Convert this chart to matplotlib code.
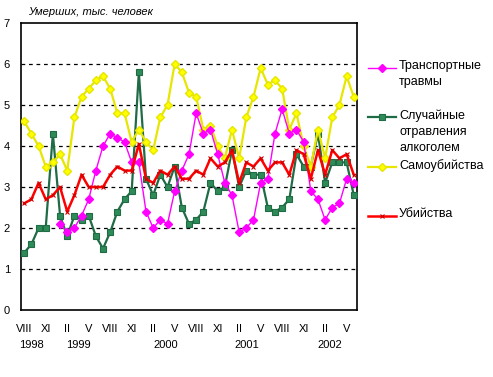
import numpy as np
import matplotlib
matplotlib.use("Agg")
import matplotlib.pyplot as plt
from matplotlib.transforms import blended_transform_factory

plt.rcParams['font.family'] = ['Liberation Sans', 'DejaVu Sans']

# --- данные: помесячно, VIII 1998 - VI 2002 ---
month_labels = ['VIII', 'XI', 'II', 'V'] * 4
year_labels = ['1998', '1999', '2000', '2001', '2002']
year_pos = [1.0, 7.6, 19.8, 31.0, 42.6]

transport = [np.nan, np.nan, np.nan, np.nan, np.nan,
             2.1, 1.9, 2.0, 2.3, 2.7, 3.4, 4.0, 4.3, 4.2, 4.1, 3.6, 3.6,
             2.4, 2.0, 2.2, 2.1, 2.9, 3.4, 3.8, 4.8, 4.3, 4.4, 3.8, 3.1,
             2.8, 1.9, 2.0, 2.2, 3.1, 3.2, 4.3, 4.9, 4.3, 4.4, 4.1, 2.9,
             2.7, 2.2, 2.5, 2.6, 3.2, 3.1]
alcohol = [1.4, 1.6, 2.0, 2.0, 4.3, 2.3, 1.8, 2.3, 2.2, 2.3, 1.8, 1.5,
           1.9, 2.4, 2.7, 2.9, 5.8, 3.2, 2.8, 3.3, 3.0, 3.5, 2.5, 2.1,
           2.2, 2.4, 3.1, 2.9, 3.0, 3.9, 3.0, 3.4, 3.3, 3.3, 2.5, 2.4,
           2.5, 2.7, 3.8, 3.5, 3.5, 4.3, 3.1, 3.6, 3.6, 3.6, 2.8]
suicide = [4.6, 4.3, 4.0, 3.5, 3.6, 3.8, 3.4, 4.7, 5.2, 5.4, 5.6, 5.7,
           5.4, 4.8, 4.8, 4.1, 4.4, 4.1, 3.9, 4.7, 5.0, 6.0, 5.8, 5.3,
           5.2, 4.4, 4.5, 4.0, 3.7, 4.4, 3.7, 4.7, 5.2, 5.9, 5.5, 5.6,
           5.4, 4.4, 4.8, 4.0, 3.5, 4.4, 3.7, 4.7, 5.0, 5.7, 5.2]
murder = [2.6, 2.7, 3.1, 2.7, 2.8, 3.0, 2.4, 2.8, 3.3, 3.0, 3.0, 3.0,
          3.3, 3.5, 3.4, 3.4, 4.05, 3.2, 3.1, 3.4, 3.3, 3.5, 3.2, 3.2,
          3.4, 3.3, 3.7, 3.5, 3.6, 3.9, 3.1, 3.6, 3.5, 3.7, 3.4, 3.6,
          3.6, 3.3, 3.9, 3.8, 3.2, 3.9, 3.3, 3.9, 3.7, 3.8, 3.3]

names = ['Транспортные\nтравмы', 'Случайные\nотравления\nалкоголем',
         'Самоубийства', 'Убийства']

# стили серий
styles = [
    dict(color='#FF00FF', lw=1.0, marker='D', ms=3.6, mfc='#FF00FF', mec='#FF00FF'),
    dict(color='#1E6B45', lw=1.6, marker='s', ms=4.2, mfc='#2E8B57', mec='#1E6B45', mew=0.8),
    dict(color='#E6E600', lw=1.6, marker='D', ms=4.2, mfc='#FFFF00', mec='#E6E600'),
    dict(color='#FF0000', lw=1.8, marker='x', ms=3.5, mec='#CC0000', mew=0.8),
]

fig = plt.figure(figsize=(4.93, 3.77), dpi=100)
ax = fig.add_axes([21 / 493, 1 - 310 / 377, 336 / 493, 287 / 377])

x = np.arange(len(alcohol))
ax.plot(x, alcohol, zorder=3, **styles[1])
ax.plot(x, suicide, zorder=4, **styles[2])
ax.plot(x, transport, zorder=5, **styles[0])
ax.plot(x, murder, zorder=6, **styles[3])

ax.set_xlim(-0.45, len(x) - 0.55)
ax.set_ylim(0, 7)
ax.set_yticks(range(8))
ax.tick_params(axis='y', length=0, labelsize=8, pad=8)
ax.set_xticks(np.arange(0, len(x), 3))
ax.set_xticklabels(month_labels)
ax.tick_params(axis='x', length=0, labelsize=8, pad=10)
for v in range(1, 7):
    ax.axhline(v, color='black', lw=0.9, ls=(0, (3, 3)), zorder=1)
for s in ax.spines.values():
    s.set_linewidth(1.2)

tr = blended_transform_factory(ax.transData, fig.transFigure)
for yl, xp in zip(year_labels, year_pos):
    ax.text(xp, 1 - 345 / 377, yl, transform=tr, ha='center', va='center', fontsize=8)

fig.text(28 / 493, 1 - 12 / 377, 'Умерших, тыс. человек', style='italic',
         fontsize=8, ha='left', va='center')

# легенда справа
lax = fig.add_axes([0, 0, 1, 1])
lax.set_xlim(0, 493)
lax.set_ylim(377, 0)
lax.axis('off')
leg_y = [68, 117, 167, 216]
for k, yy in enumerate(leg_y):
    st = styles[k]
    lax.plot([368, 396], [yy, yy], color=st['color'], lw=st['lw'])
    lax.plot([382], [yy], ls='none', marker=st['marker'], ms=st['ms'],
             mfc=st.get('mfc', 'none'), mec=st['mec'], mew=st.get('mew', 1.0))
    lax.text(399, yy - 8, names[k], ha='left', va='top', fontsize=9,
             linespacing=1.45)

fig.savefig('out.png', dpi=100)
